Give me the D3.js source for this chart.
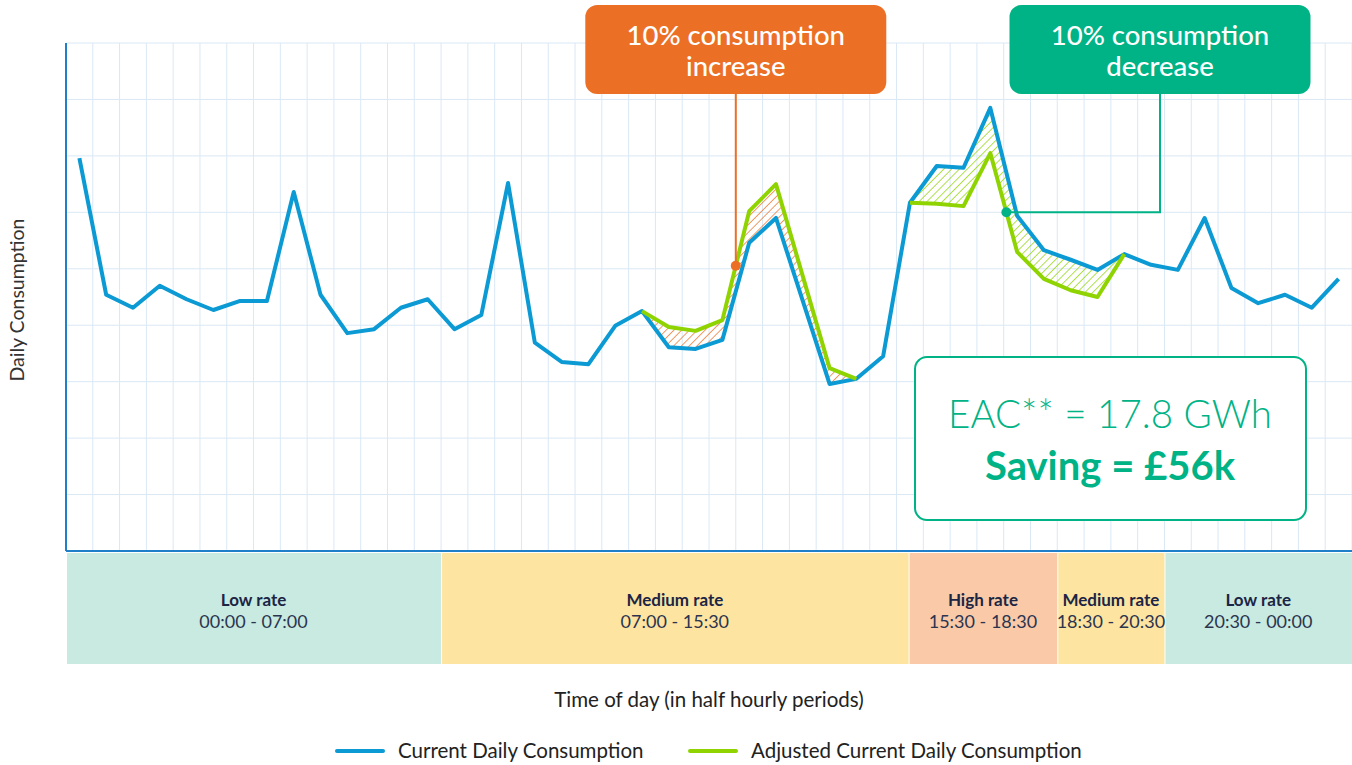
<!DOCTYPE html>
<html>
<head>
<meta charset="utf-8">
<script src="https://cdn.jsdelivr.net/npm/d3@7"></script>
<style>
  body { margin: 0; background: #fff; }
  svg { display: block; font-family: Lato, "Open Sans", sans-serif; }
</style>
</head>
<body>
<svg id="chart" width="1352" height="765"></svg>
<script>
// half hourly consumption, in grid units (0..9)
const currentValues = [6.96, 4.54, 4.31, 4.70, 4.46, 4.27, 4.43, 4.43, 6.36, 4.54,
  3.86, 3.93, 4.31, 4.46, 3.93, 4.18, 6.52, 3.69, 3.35, 3.31,
  3.99, 4.25, 3.61, 3.58, 3.74, 5.46, 5.90, 4.43, 2.96, 3.05,
  3.45, 6.17, 6.82, 6.79, 7.85, 5.94, 5.33, 5.16, 4.98, 5.26,
  5.07, 4.98, 5.90, 4.66, 4.39, 4.54, 4.31, 4.82];

// adjusted series, only where the tariff shift applies
const adjustedValues = [null, null, null, null, null, null, null, null, null, null,
  null, null, null, null, null, null, null, null, null, null,
  null, 4.25, 3.97, 3.90, 4.09, 6.02, 6.50, 4.87, 3.24, 3.05,
  null, 6.17, 6.15, 6.11, 7.05, 5.30, 4.82, 4.62, 4.50, 5.26,
  null, null, null, null, null, null, null, null];

// rate bands (start / end in half hour periods)
const bandNames = ["Low rate", "Medium rate", "High rate", "Medium rate", "Low rate"];
const bandTimes = ["00:00 - 07:00", "07:00 - 15:30", "15:30 - 18:30", "18:30 - 20:30", "20:30 - 00:00"];
const bandStarts = [0, 14, 31.45, 37, 41];
const bandEnds = [14, 31.45, 37, 41, 48];
const bandKinds = ["low", "medium", "high", "medium", "low"];

const legendLabels = ["Current Daily Consumption", "Adjusted Current Daily Consumption"];

const colors = {
  blue: "#0b9ad3", green: "#8fd400", orange: "#ec6f26", teal: "#00b386",
  grid: "#dae8f5", axis: "#1f80c9", text: "#1b2545",
  low: "#c8eae0", medium: "#fde4a0", high: "#f9c9a8"
};

const svg = d3.select("#chart");
const x = d3.scaleLinear().domain([0, 48]).range([66, 1352]);
const y = d3.scaleLinear().domain([0, 9]).range([551, 43]);

// hatch patterns
const defs = svg.append("defs");
function makeHatch(id, color) {
  const p = defs.append("pattern")
    .attr("id", id)
    .attr("patternUnits", "userSpaceOnUse")
    .attr("width", 5.5).attr("height", 5.5)
    .attr("patternTransform", "rotate(45)");
  p.append("line")
    .attr("x1", 0).attr("y1", 0).attr("x2", 0).attr("y2", 5.5)
    .attr("stroke", color).attr("stroke-width", 1.4);
}
makeHatch("hatchUp", colors.orange);
makeHatch("hatchDown", colors.green);

// grid
svg.append("g").selectAll("line")
  .data(d3.range(0, 49))
  .join("line")
  .attr("x1", d => x(d)).attr("x2", d => x(d))
  .attr("y1", y(9)).attr("y2", y(0))
  .attr("stroke", colors.grid).attr("stroke-width", 1);

svg.append("g").selectAll("line")
  .data(d3.range(0, 10))
  .join("line")
  .attr("x1", x(0)).attr("x2", x(48))
  .attr("y1", d => y(d)).attr("y2", d => y(d))
  .attr("stroke", colors.grid).attr("stroke-width", 1);

// axes lines
svg.append("line")
  .attr("x1", x(0)).attr("x2", x(0)).attr("y1", y(9)).attr("y2", y(0))
  .attr("stroke", colors.axis).attr("stroke-width", 2);
svg.append("line")
  .attr("x1", x(0)).attr("x2", x(48)).attr("y1", y(0)).attr("y2", y(0))
  .attr("stroke", colors.axis).attr("stroke-width", 2);

// rate bands
const bands = svg.append("g").selectAll("g")
  .data(bandNames.map((n, i) => ({ name: n, time: bandTimes[i], s: bandStarts[i], e: bandEnds[i], kind: bandKinds[i] })))
  .join("g");
bands.append("rect")
  .attr("x", d => x(d.s) + 1)
  .attr("width", d => x(d.e) - x(d.s) - 1)
  .attr("y", 553).attr("height", 111)
  .attr("fill", d => colors[d.kind]);
bands.append("text")
  .attr("x", d => (x(d.s) + x(d.e)) / 2).attr("y", 606)
  .attr("text-anchor", "middle").attr("font-weight", "bold")
  .attr("font-size", 17).attr("fill", colors.text)
  .text(d => d.name);
bands.append("text")
  .attr("x", d => (x(d.s) + x(d.e)) / 2).attr("y", 628)
  .attr("text-anchor", "middle")
  .attr("font-size", 18).attr("fill", "#2b3550")
  .text(d => d.time);

// hatched gaps between the series
const idx = d3.range(currentValues.length);
const gapArea = d3.area()
  .defined(i => adjustedValues[i] !== null)
  .x(i => x(i + 0.5))
  .y0(i => y(currentValues[i]))
  .y1(i => y(adjustedValues[i]));

svg.append("path").datum(idx.filter(i => i <= 29))
  .attr("d", gapArea).attr("fill", "url(#hatchUp)");
svg.append("path").datum(idx.filter(i => i >= 31))
  .attr("d", gapArea).attr("fill", "url(#hatchDown)");

// lines
svg.append("path").datum(idx)
  .attr("d", d3.line().x(i => x(i + 0.5)).y(i => y(currentValues[i])))
  .attr("fill", "none").attr("stroke", colors.blue)
  .attr("stroke-width", 4).attr("stroke-linejoin", "round");

svg.append("path").datum(idx)
  .attr("d", d3.line().defined(i => adjustedValues[i] !== null)
    .x(i => x(i + 0.5)).y(i => y(adjustedValues[i])))
  .attr("fill", "none").attr("stroke", colors.green)
  .attr("stroke-width", 4).attr("stroke-linejoin", "round");

function adjustedAt(p) {
  // linear interpolation of the adjusted line at period position p
  const t = p - 0.5, i = Math.floor(t), f = t - i;
  return adjustedValues[i] + (adjustedValues[i + 1] - adjustedValues[i]) * f;
}

// callouts
function callout(cx, color, lines) {
  const g = svg.append("g");
  g.append("rect")
    .attr("x", cx - 150.5).attr("y", 5).attr("width", 301).attr("height", 89)
    .attr("rx", 12).attr("fill", color);
  g.selectAll("text").data(lines).join("text")
    .attr("x", cx).attr("y", (d, i) => 45 + i * 31)
    .attr("text-anchor", "middle").attr("fill", "#fff")
    .attr("font-size", 27.5).attr("font-weight", 500)
    .text(d => d);
}

const upP = 25, downP = 35.1;
const upX = x(upP), upY = y(adjustedAt(upP));
const downX = x(downP), downY = y(adjustedAt(downP));

svg.append("line")
  .attr("x1", upX).attr("x2", upX).attr("y1", 94).attr("y2", upY)
  .attr("stroke", colors.orange).attr("stroke-width", 2);
svg.append("polyline")
  .attr("points", [[1160, 94], [1160, downY], [downX, downY]].map(p => p.join(",")).join(" "))
  .attr("fill", "none").attr("stroke", colors.teal).attr("stroke-width", 2);

callout(upX, colors.orange, ["10% consumption", "increase"]);
callout(1160, colors.teal, ["10% consumption", "decrease"]);

svg.append("circle").attr("cx", upX).attr("cy", upY).attr("r", 5).attr("fill", colors.orange);
svg.append("circle").attr("cx", downX).attr("cy", downY).attr("r", 5).attr("fill", colors.teal);

// EAC box
svg.append("rect")
  .attr("x", 915).attr("y", 357).attr("width", 391).attr("height", 163)
  .attr("rx", 12).attr("fill", "#fff")
  .attr("stroke", colors.teal).attr("stroke-width", 2);
svg.append("text")
  .attr("x", 1110).attr("y", 428).attr("text-anchor", "middle")
  .attr("font-size", 38.5).attr("font-weight", 300).attr("fill", colors.teal)
  .text("EAC** = 17.8 GWh");
svg.append("text")
  .attr("x", 1110).attr("y", 480).attr("text-anchor", "middle")
  .attr("font-size", 40).attr("font-weight", "bold").attr("fill", colors.teal)
  .text("Saving = £56k");

// axis titles
svg.append("text")
  .attr("transform", "translate(24,300) rotate(270)")
  .attr("text-anchor", "middle").attr("font-size", 19.5).attr("fill", "#333")
  .text("Daily Consumption");
svg.append("text")
  .attr("x", 709).attr("y", 707).attr("text-anchor", "middle")
  .attr("font-size", 20.5).attr("fill", "#222")
  .text("Time of day (in half hourly periods)");

// legend
const legendX = [337, 690];
const legendColors = [colors.blue, colors.green];
const leg = svg.append("g").selectAll("g").data(legendLabels).join("g");
leg.append("line")
  .attr("x1", (d, i) => legendX[i]).attr("x2", (d, i) => legendX[i] + 46)
  .attr("y1", 751).attr("y2", 751)
  .attr("stroke", (d, i) => legendColors[i]).attr("stroke-width", 4)
  .attr("stroke-linecap", "round");
leg.append("text")
  .attr("x", (d, i) => legendX[i] + 61).attr("y", 758)
  .attr("font-size", 20.5).attr("fill", "#222")
  .text(d => d);
</script>
</body>
</html>
